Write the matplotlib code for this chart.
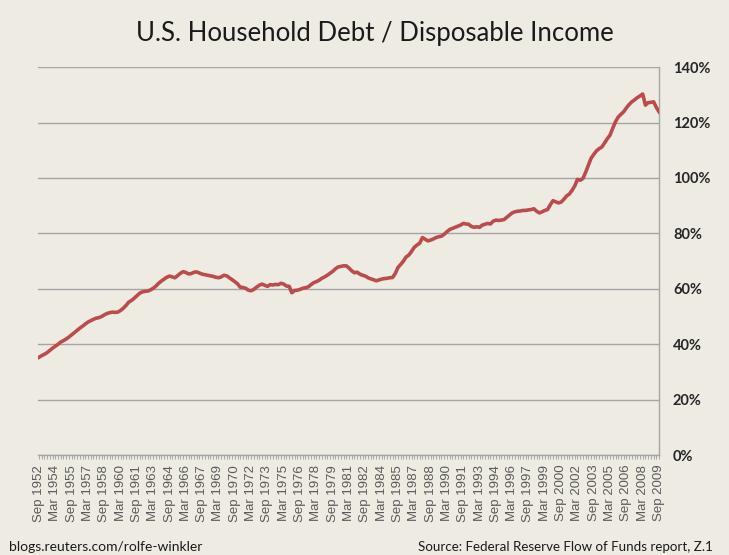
import matplotlib.pyplot as plt

# quarterly household debt as % of disposable income, Sep 1952 .. Sep 2009
start_year = 1952
ratio = [
	35.3, 35.9,                    # 1952 (Sep, Dec)
	36.4, 37.0, 37.8, 38.6,        # 1953
	39.3, 40.0, 40.8, 41.3,
	41.9, 42.6, 43.4, 44.2,
	45.0, 45.8, 46.5, 47.3,
	48.0, 48.5, 49.0, 49.4,
	49.6, 50.0, 50.6, 51.1,
	51.4, 51.6, 51.5, 51.6,
	52.2, 53.0, 54.0, 55.2,        # 1960
	55.8, 56.6, 57.5, 58.4,
	58.9, 59.1, 59.2, 59.6,
	60.2, 61.0, 62.0, 62.8,
	63.5, 64.2, 64.6, 64.3,
	64.0, 64.8, 65.6, 66.2,
	65.9, 65.4, 65.5, 66.0,
	66.1, 65.7, 65.3, 65.1,
	64.9, 64.7, 64.5, 64.2,
	64.0, 64.3, 64.9, 64.7,
	64.0, 63.3, 62.6, 61.8,        # 1970
	60.6, 60.5, 60.2, 59.5,
	59.3, 59.8, 60.6, 61.3,
	61.7, 61.3, 60.9, 61.5,
	61.4, 61.6, 61.5, 62.0,
	61.7, 61.0, 60.9, 58.6,
	59.4, 59.5, 59.8, 60.2,
	60.4, 60.7, 61.5, 62.2,
	62.6, 63.1, 63.8, 64.3,
	64.9, 65.6, 66.3, 67.2,
	67.9, 68.1, 68.3, 68.3,        # 1980
	67.5, 66.5, 65.8, 66.0,
	65.3, 64.9, 64.6, 64.0,
	63.6, 63.3, 62.9, 63.2,
	63.5, 63.7, 63.8, 64.0,
	64.1, 65.5, 67.7, 68.8,
	70.0, 71.5, 72.2, 73.5,
	75.0, 75.8, 76.5, 78.5,
	77.9, 77.3, 77.6, 78.0,
	78.5, 78.8, 79.0, 79.7,
	80.6, 81.4, 81.8, 82.2,        # 1990
	82.6, 83.0, 83.6, 83.4,
	83.3, 82.5, 82.2, 82.4,
	82.2, 83.0, 83.3, 83.6,
	83.4, 84.4, 84.8, 84.7,
	84.8, 85.0, 85.8, 86.6,
	87.4, 87.8, 88.0, 88.1,
	88.3, 88.3, 88.5, 88.6,
	88.9, 88.0, 87.4, 87.8,
	88.3, 88.6, 90.3, 91.8,
	91.4, 91.0, 91.3, 92.3,        # 2000
	93.5, 94.2, 95.5, 97.1,
	99.5, 99.2, 99.8, 102.0,
	104.5, 107.1, 108.5, 109.8,
	110.6, 111.2, 112.7, 114.2,
	115.5, 118.0, 120.3, 122.0,
	123.0, 123.9, 125.3, 126.5,
	127.5, 128.2, 129.0, 129.6,
	130.3, 126.3, 127.2, 127.3,
	127.5, 125.5, 123.9,           # 2009 (Mar, Jun, Sep)
]
ytick_vals = [0, 20, 40, 60, 80, 100, 120, 140]

months = ['Mar', 'Jun', 'Sep', 'Dec']
quarters = []
for n in range(len(ratio)):
	q = n + 2  # series starts in the Sep quarter
	quarters.append(months[q % 4] + ' ' + str(start_year + q // 4))

bg = '#eeebe3'
fig = plt.figure(figsize=(7.29, 5.55), dpi=100, facecolor=bg)
ax = fig.add_axes([0.052, 0.180, 0.852, 0.699], facecolor=bg)

x = list(range(len(ratio)))
ax.plot(x, ratio, color='#bc4c4c', linewidth=2.6, solid_joinstyle='round', zorder=3)

ax.set_ylim(0, 140)
ax.set_xlim(-0.4, len(ratio) - 1)
ax.set_yticks(ytick_vals)
ax.set_yticklabels([str(v) + '%' for v in ytick_vals], fontsize=10.5, fontweight='bold',
                   color='#262626', family='Lato')
ax.yaxis.tick_right()
ax.tick_params(axis='y', length=0, pad=10)
ax.grid(axis='y', color='#a5a5a5', linewidth=1.0)
ax.set_axisbelow(True)

# a label every sixth quarter, a tick mark on every quarter
ax.set_xticks(x[::6])
ax.set_xticklabels(quarters[::6], rotation=90, fontsize=9.5, color='#5a5a5a',
                   family='Liberation Sans')
ax.set_xticks(x, minor=True)
ax.tick_params(axis='x', which='both', length=3, color='#9a9a9a', width=0.6, pad=4)

for side in ['top', 'left']:
	ax.spines[side].set_visible(False)
for side in ['right', 'bottom']:
	ax.spines[side].set_color('#a5a5a5')
	ax.spines[side].set_linewidth(1.0)

fig.text(0.514, 0.94, 'U.S. Household Debt / Disposable Income', ha='center', va='center',
         fontsize=18.5, color='#1a1a1a', family='Lato')
fig.text(0.012, 0.015, 'blogs.reuters.com/rolfe-winkler', ha='left', va='center',
         fontsize=10, color='#1a1a1a', family='Lato')
fig.text(0.978, 0.015, 'Source: Federal Reserve Flow of Funds report, Z.1', ha='right', va='center',
         fontsize=9.6, color='#1a1a1a', family='Lato')

plt.savefig('out.png', dpi=100, facecolor=bg)
plt.close()
